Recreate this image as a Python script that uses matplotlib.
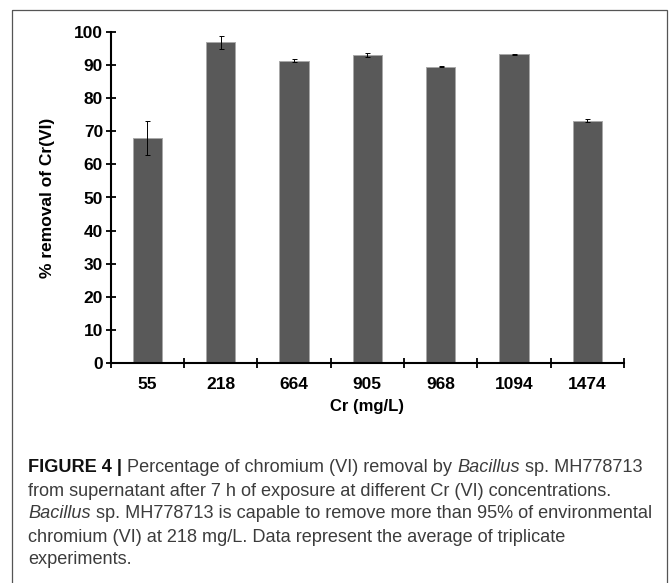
import matplotlib
matplotlib.use("Agg")
import matplotlib.pyplot as plt
from matplotlib.patches import Rectangle
from matplotlib.transforms import Affine2D

categories = ["55", "218", "664", "905", "968", "1094", "1474"]
removal = [67.9, 96.8, 91.3, 93.0, 89.4, 93.2, 73.2]
errors = [5.2, 2.0, 0.45, 0.65, 0.15, 0.15, 0.45]
y_ticks = [0, 10, 20, 30, 40, 50, 60, 70, 80, 90, 100]

W, H = 670, 583
fig = plt.figure(figsize=(W / 100, H / 100), dpi=100)
plt.rcParams['font.family'] = ['Liberation Sans', 'DejaVu Sans']

# pixel transform (origin top-left)
pix = Affine2D().scale(1, -1).translate(0, H) + Affine2D().scale(1.0 / W, 1.0 / H) + fig.transFigure

# outer frame
fig.patches.append(Rectangle((11.5, 9.5), 655.5, 600, transform=pix, fill=False,
                             edgecolor='#555555', linewidth=0.9))

ax_l, ax_r, ax_t, ax_b = 110.7, 624.0, 31.7, 363.3
ax = fig.add_axes([ax_l / W, 1 - ax_b / H, (ax_r - ax_l) / W, (ax_b - ax_t) / H])

x = list(range(len(categories)))
ax.bar(x, removal, width=0.4, color='#595959', edgecolor='#a8a8a8', linewidth=0.7, zorder=2)
ax.errorbar(x, removal, yerr=errors, fmt='none', ecolor='black', elinewidth=0.7,
            capsize=1.8, capthick=0.7, zorder=3)

ax.set_xlim(-0.5, len(categories) - 0.5)
ax.set_ylim(0, 100)
for s in ['top', 'right']:
    ax.spines[s].set_visible(False)
for s in ['left', 'bottom']:
    ax.spines[s].set_linewidth(1.5)
    ax.spines[s].set_color('black')

ax.set_yticks(y_ticks)
ax.set_yticklabels([str(v) for v in y_ticks], fontsize=12.5, fontweight='bold')
ax.set_xticks([i - 0.5 for i in range(len(categories) + 1)])
ax.set_xticklabels([])
ax.set_xticks(x, minor=True)
ax.set_xticklabels(categories, minor=True, fontsize=12.5, fontweight='bold')
ax.tick_params(axis='both', which='major', direction='inout', length=7, width=1.3, color='black')
ax.tick_params(axis='y', which='major', pad=2)
ax.tick_params(axis='x', which='minor', length=0, pad=10)

ax.set_ylabel("% removal of Cr(VI)", fontsize=12.5, fontweight='bold')
ax.yaxis.set_label_coords((55 - ax_l) / (ax_r - ax_l), 0.5)
ax.set_xlabel("Cr (mg/L)", fontsize=12, fontweight='bold')
ax.xaxis.set_label_coords(0.5, -(406 - ax_b) / (ax_b - ax_t))
ax.xaxis.label.set_va('center')

# caption
renderer = fig.canvas.get_renderer()
cap_color = '#3c3c3c'
cap_family = ['Liberation Sans', 'DejaVu Sans']


def text_width(s, fs, weight='normal', style='normal'):
    t1 = fig.text(0, 0, "|" + s + "|", fontsize=fs, fontweight=weight, fontstyle=style, family=cap_family)
    t2 = fig.text(0, 0, "||", fontsize=fs, fontweight=weight, fontstyle=style, family=cap_family)
    w = t1.get_window_extent(renderer).width - t2.get_window_extent(renderer).width
    t1.remove()
    t2.remove()
    return w


lines = [
    [("FIGURE 4 |", 'bold', 'normal'), (" Percentage of chromium (VI) removal by ", 'normal', 'normal'),
     ("Bacillus", 'normal', 'italic'), (" sp. MH778713", 'normal', 'normal')],
    [("from supernatant after 7 h of exposure at different Cr (VI) concentrations.", 'normal', 'normal')],
    [("Bacillus", 'normal', 'italic'),
     (" sp. MH778713 is capable to remove more than 95% of environmental", 'normal', 'normal')],
    [("chromium (VI) at 218 mg/L. Data represent the average of triplicate", 'normal', 'normal')],
    [("experiments.", 'normal', 'normal')],
]

base_fs = 11.0
target = 652 - 28
meas = sum(text_width(s, base_fs, w, st) for s, w, st in lines[2])
cap_fs = base_fs * target / meas

line_y = [468, 491, 514, 537, 560]
for ly, pieces in zip(line_y, lines):
    cx = 28.0
    for s, w, st in pieces:
        fig.text(cx, ly, s, transform=pix, fontsize=cap_fs, fontweight=w, fontstyle=st,
                 family=cap_family,
                 color='#111111' if w == 'bold' else cap_color, va='center', ha='left')
        cx += text_width(s, cap_fs, w, st)

fig.savefig("out.png", dpi=100)
